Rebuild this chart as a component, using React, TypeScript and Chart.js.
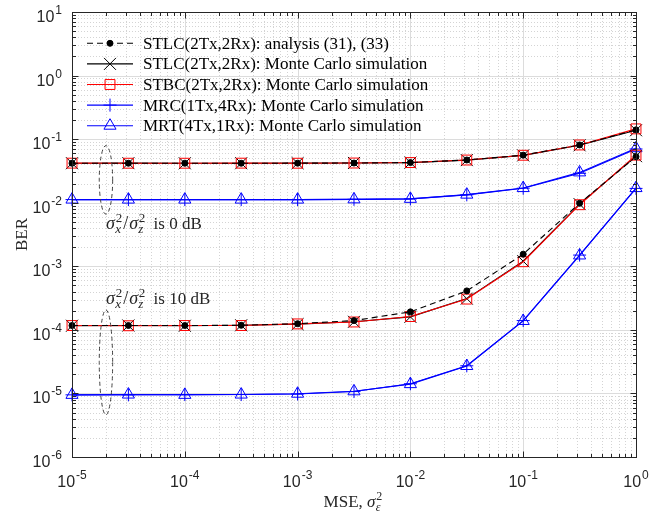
import React, { useEffect, useRef } from 'react';
import { Chart, registerables } from 'chart.js';

Chart.register(...registerables);

// ---------- data ----------
const mse = [1e-5, 3.162e-5, 1e-4, 3.162e-4, 1e-3, 3.162e-3, 1e-2, 3.162e-2, 1e-1, 3.162e-1, 1];

const stlcAnalysis0dB = [0.0418, 0.0418, 0.0418, 0.0418, 0.0419, 0.0421, 0.0428, 0.047, 0.056, 0.081, 0.14];
const stlcSim0dB = [0.0418, 0.0419, 0.0417, 0.0418, 0.0419, 0.0422, 0.0427, 0.0468, 0.0555, 0.08, 0.138];
const stbcSim0dB = [0.0419, 0.0418, 0.0418, 0.0419, 0.0418, 0.0421, 0.0428, 0.0469, 0.0558, 0.081, 0.145];
const mrcSim0dB = [0.0112, 0.0112, 0.0112, 0.0112, 0.0112, 0.0113, 0.0115, 0.0133, 0.0169, 0.029, 0.07];
const mrtSim0dB = [0.0112, 0.0112, 0.0112, 0.0112, 0.0112, 0.0113, 0.0115, 0.0134, 0.017, 0.03, 0.072];

const stlcAnalysis10dB = [1.17e-4, 1.17e-4, 1.17e-4, 1.18e-4, 1.25e-4, 1.4e-4, 1.92e-4, 4.1e-4, 1.55e-3, 0.0098, 0.053];
const stlcSim10dB = [1.16e-4, 1.17e-4, 1.16e-4, 1.18e-4, 1.23e-4, 1.34e-4, 1.6e-4, 3.1e-4, 1.2e-3, 0.0095, 0.054];
const stbcSim10dB = [1.17e-4, 1.16e-4, 1.17e-4, 1.17e-4, 1.24e-4, 1.33e-4, 1.62e-4, 3.05e-4, 1.18e-3, 0.0093, 0.056];
const mrcSim10dB = [9.5e-6, 9.5e-6, 9.6e-6, 9.6e-6, 9.8e-6, 1.07e-5, 1.42e-5, 2.72e-5, 1.4e-4, 1.5e-3, 0.0168];
const mrtSim10dB = [9.5e-6, 9.6e-6, 9.5e-6, 9.6e-6, 9.9e-6, 1.08e-5, 1.4e-5, 2.7e-5, 1.38e-4, 1.48e-3, 0.017];

const seriesLabels = [
  'STLC(2Tx,2Rx): analysis (31), (33)',
  'STLC(2Tx,2Rx): Monte Carlo simulation',
  'STBC(2Tx,2Rx): Monte Carlo simulation',
  'MRC(1Tx,4Rx): Monte Carlo simulation',
  'MRT(4Tx,1Rx): Monte Carlo simulation',
];

const xTickExponents = [-5, -4, -3, -2, -1, 0];
const yTickExponents = [-6, -5, -4, -3, -2, -1, 0, 1];

// annotations (data coordinates)
const snrNotes = ['0', '10'];
const noteX = [2e-5, 2e-5];
const ellipseTop = [0.079, 2.06e-4];
const ellipseBottom = [0.0066, 4.6e-6];
const noteTextY = [3.9e-3, 2.56e-4];

// ---------- styles ----------
const SERIF = '"Liberation Serif", "Times New Roman", serif';
const SANS = '"Liberation Sans", Arial, sans-serif';
const AX = '#262626';

type Sty = { color: string; dash: number[]; point: string; radius: number; fill: string; order: number };
const styles: Sty[] = [
  { color: '#000000', dash: [6, 4], point: 'circle', radius: 3, fill: '#000000', order: 0 },
  { color: '#000000', dash: [], point: 'crossRot', radius: 8.5, fill: 'rgba(0,0,0,0)', order: 2 },
  { color: '#ff0000', dash: [], point: 'rect', radius: 7, fill: 'rgba(0,0,0,0)', order: 1 },
  { color: '#0000ff', dash: [], point: 'cross', radius: 6.5, fill: 'rgba(0,0,0,0)', order: 4 },
  { color: '#0000ff', dash: [], point: 'triangle', radius: 7, fill: 'rgba(0,0,0,0)', order: 3 },
];

const groups = [
  [stlcAnalysis0dB, stlcSim0dB, stbcSim0dB, mrcSim0dB, mrtSim0dB],
  [stlcAnalysis10dB, stlcSim10dB, stbcSim10dB, mrcSim10dB, mrtSim10dB],
];

function makeDatasets() {
  const ds: any[] = [];
  for (let s = 0; s < 5; s++) {
    for (let g = 0; g < 2; g++) {
      const st = styles[s];
      ds.push({
        label: seriesLabels[s],
        data: mse.map((x, i) => ({ x, y: groups[g][s][i] })),
        order: st.order,
        borderColor: st.color,
        borderWidth: 1.1,
        borderDash: st.dash,
        pointStyle: st.point,
        pointRadius: st.radius,
        pointBorderColor: st.color,
        pointBackgroundColor: st.fill,
        pointBorderWidth: 1,
        fill: false,
        tension: 0,
        clip: false,
      });
    }
  }
  return ds;
}

function drawMarker(ctx: CanvasRenderingContext2D, st: Sty, x: number, y: number) {
  const r = st.radius;
  ctx.save();
  ctx.setLineDash([]);
  ctx.strokeStyle = st.color;
  ctx.fillStyle = st.fill;
  ctx.lineWidth = 1;
  ctx.beginPath();
  if (st.point === 'circle') {
    ctx.arc(x, y, r, 0, Math.PI * 2);
    ctx.fill();
    ctx.stroke();
  } else if (st.point === 'crossRot') {
    const o = r * Math.SQRT1_2;
    ctx.moveTo(x - o, y - o); ctx.lineTo(x + o, y + o);
    ctx.moveTo(x + o, y - o); ctx.lineTo(x - o, y + o);
    ctx.stroke();
  } else if (st.point === 'rect') {
    const o = r * Math.SQRT1_2;
    ctx.rect(x - o, y - o, 2 * o, 2 * o);
    ctx.stroke();
  } else if (st.point === 'cross') {
    ctx.moveTo(x, y - r); ctx.lineTo(x, y + r);
    ctx.moveTo(x - r, y); ctx.lineTo(x + r, y);
    ctx.stroke();
  } else if (st.point === 'triangle') {
    const a = (2 * Math.PI) / 3;
    ctx.moveTo(x, y - r);
    ctx.lineTo(x + Math.sin(a) * r, y - Math.cos(a) * r);
    ctx.lineTo(x + Math.sin(2 * a) * r, y - Math.cos(2 * a) * r);
    ctx.closePath();
    ctx.stroke();
  }
  ctx.restore();
}

function drawPow(ctx: CanvasRenderingContext2D, exp: number, x: number, y: number, align: 'center' | 'right') {
  ctx.save();
  ctx.fillStyle = AX;
  ctx.textAlign = 'left';
  ctx.textBaseline = 'alphabetic';
  ctx.font = `16px ${SANS}`;
  const bw = ctx.measureText('10').width;
  ctx.font = `12px ${SANS}`;
  const es = String(exp);
  const ew = ctx.measureText(es).width;
  const total = bw + ew + 1;
  const x0 = align === 'center' ? x - total / 2 : x - total;
  ctx.font = `16px ${SANS}`;
  ctx.fillText('10', x0, y);
  ctx.font = `12px ${SANS}`;
  ctx.fillText(es, x0 + bw + 1, y - 8);
  ctx.restore();
}

// draws σ^2_sub, returns advance
function drawSigma(ctx: CanvasRenderingContext2D, x: number, y: number, sub: string, size: number) {
  ctx.font = `italic ${size}px ${SERIF}`;
  ctx.fillText('σ', x, y);
  const sw = ctx.measureText('σ').width;
  const small = Math.round(size * 0.7);
  ctx.font = `${small}px ${SERIF}`;
  ctx.fillText('2', x + sw + 0.8, y - size * 0.4);
  const w2 = ctx.measureText('2').width;
  ctx.font = `italic ${small}px ${SERIF}`;
  ctx.fillText(sub, x + sw + 0.3, y + size * 0.24);
  const w3 = ctx.measureText(sub).width;
  return sw + 0.8 + Math.max(w2, w3);
}

const decorPlugin = {
  id: 'decor',
  beforeDatasetsDraw(chart: any) {
    const ctx: CanvasRenderingContext2D = chart.ctx;
    const xs = chart.scales.x, ys = chart.scales.y;
    const { left, right, top, bottom } = chart.chartArea;
    ctx.save();
    ctx.lineWidth = 1;
    // minor grid
    ctx.strokeStyle = '#d4d4d4';
    ctx.setLineDash([1, 2]);
    ctx.beginPath();
    for (const d of xTickExponents) {
      for (let m = 2; m <= 9; m++) {
        const v = m * Math.pow(10, d);
        if (v > 1.0001) continue;
        const px = Math.round(xs.getPixelForValue(v)) + 0.5;
        ctx.moveTo(px, top); ctx.lineTo(px, bottom);
      }
    }
    for (const d of yTickExponents) {
      for (let m = 2; m <= 9; m++) {
        const v = m * Math.pow(10, d);
        if (v > 10.0001) continue;
        const py = Math.round(ys.getPixelForValue(v)) + 0.5;
        ctx.moveTo(left, py); ctx.lineTo(right, py);
      }
    }
    ctx.stroke();
    // major grid
    ctx.setLineDash([]);
    ctx.strokeStyle = '#dcdcdc';
    ctx.beginPath();
    for (const d of xTickExponents) {
      const px = Math.round(xs.getPixelForValue(Math.pow(10, d))) + 0.5;
      ctx.moveTo(px, top); ctx.lineTo(px, bottom);
    }
    for (const d of yTickExponents) {
      const py = Math.round(ys.getPixelForValue(Math.pow(10, d))) + 0.5;
      ctx.moveTo(left, py); ctx.lineTo(right, py);
    }
    ctx.stroke();
    ctx.restore();
  },
  afterDatasetsDraw(chart: any) {
    const ctx: CanvasRenderingContext2D = chart.ctx;
    const xs = chart.scales.x, ys = chart.scales.y;
    const { left, right, top, bottom } = chart.chartArea;
    ctx.save();
    // box
    ctx.strokeStyle = AX;
    ctx.lineWidth = 1;
    ctx.setLineDash([]);
    const L = Math.round(left) + 0.5, R = Math.round(right) + 0.5, T = Math.round(top) + 0.5, B = Math.round(bottom) + 0.5;
    ctx.strokeRect(L, T, R - L, B - T);
    // ticks
    ctx.beginPath();
    for (const d of xTickExponents) {
      for (let m = 1; m <= 9; m++) {
        const v = m * Math.pow(10, d);
        if (v > 1.0001) continue;
        const len = m === 1 ? 6 : 3.5;
        const px = Math.round(xs.getPixelForValue(v)) + 0.5;
        ctx.moveTo(px, B); ctx.lineTo(px, B - len);
        ctx.moveTo(px, T); ctx.lineTo(px, T + len);
      }
    }
    for (const d of yTickExponents) {
      for (let m = 1; m <= 9; m++) {
        const v = m * Math.pow(10, d);
        if (v > 10.0001) continue;
        const len = m === 1 ? 6 : 3.5;
        const py = Math.round(ys.getPixelForValue(v)) + 0.5;
        ctx.moveTo(L, py); ctx.lineTo(L + len, py);
        ctx.moveTo(R, py); ctx.lineTo(R - len, py);
      }
    }
    ctx.stroke();
    // tick labels
    for (const d of xTickExponents) {
      drawPow(ctx, d, xs.getPixelForValue(Math.pow(10, d)), bottom + 30, 'center');
    }
    for (const d of yTickExponents) {
      drawPow(ctx, d, left - 10, ys.getPixelForValue(Math.pow(10, d)) + 10, 'right');
    }
    // axis titles
    ctx.fillStyle = AX;
    ctx.textBaseline = 'alphabetic';
    ctx.textAlign = 'left';
    {
      ctx.font = `17px ${SERIF}`;
      const w1 = ctx.measureText('MSE, ').width;
      ctx.font = `italic 17px ${SERIF}`;
      const w2 = ctx.measureText('σ').width + 9;
      const cx = (left + right) / 2;
      let x = cx - (w1 + w2) / 2;
      ctx.font = `17px ${SERIF}`;
      ctx.fillText('MSE, ', x, 507);
      x += w1;
      drawSigma(ctx, x, 507, 'ε', 17);
    }
    ctx.save();
    ctx.translate(27, (top + bottom) / 2);
    ctx.rotate(-Math.PI / 2);
    ctx.textAlign = 'center';
    ctx.font = `17px ${SERIF}`;
    ctx.fillText('BER', 0, 0);
    ctx.restore();

    // annotations
    for (let i = 0; i < snrNotes.length; i++) {
      const cx = xs.getPixelForValue(noteX[i]);
      const y1 = ys.getPixelForValue(ellipseTop[i]);
      const y2 = ys.getPixelForValue(ellipseBottom[i]);
      ctx.save();
      ctx.strokeStyle = '#404040';
      ctx.lineWidth = 1;
      ctx.setLineDash([4, 3]);
      ctx.beginPath();
      ctx.ellipse(cx, (y1 + y2) / 2, 6.7, (y2 - y1) / 2, 0, 0, Math.PI * 2);
      ctx.stroke();
      ctx.restore();
      const ty = ys.getPixelForValue(noteTextY[i]);
      ctx.fillStyle = AX;
      let x = cx;
      x += drawSigma(ctx, x, ty, 'x', 18);
      ctx.font = `18px ${SERIF}`;
      ctx.fillText('/', x + 1, ty);
      x += ctx.measureText('/').width + 2;
      x += drawSigma(ctx, x, ty, 'z', 18);
      ctx.font = `17px ${SERIF}`;
      ctx.fillText(` is ${snrNotes[i]} dB`, x + 4, ty);
    }

    // legend
    const rowY0 = 43.3, rowStep = 20.6;
    for (let s = 0; s < 5; s++) {
      const y = rowY0 + s * rowStep;
      const st = styles[s];
      ctx.save();
      ctx.strokeStyle = st.color;
      ctx.lineWidth = 1.1;
      ctx.setLineDash(st.dash);
      ctx.beginPath();
      ctx.moveTo(87, y); ctx.lineTo(133, y);
      ctx.stroke();
      ctx.restore();
      drawMarker(ctx, st, 110, y);
      ctx.fillStyle = '#000';
      ctx.font = `17px ${SERIF}`;
      ctx.textAlign = 'left';
      ctx.fillText(seriesLabels[s], 143, y + 5.5);
    }
    ctx.restore();
  },
};

export default function App() {
  const ref = useRef<HTMLCanvasElement>(null);
  useEffect(() => {
    if (!ref.current) return;
    const chart = new Chart(ref.current, {
      type: 'line',
      data: { datasets: makeDatasets() },
      options: {
        animation: false,
        responsive: true,
        maintainAspectRatio: false,
        layout: { padding: { left: 72, right: 31, top: 12, bottom: 62 } },
        plugins: { legend: { display: false }, tooltip: { enabled: false } },
        scales: {
          x: { type: 'logarithmic', min: 1e-5, max: 1, display: false },
          y: { type: 'logarithmic', min: 1e-6, max: 10, display: false },
        },
      },
      plugins: [decorPlugin],
    });
    return () => chart.destroy();
  }, []);
  return (
    <div style={{ position: 'fixed', left: 0, top: 0, width: 667, height: 519, background: '#fff' }}>
      <canvas ref={ref} />
    </div>
  );
}
